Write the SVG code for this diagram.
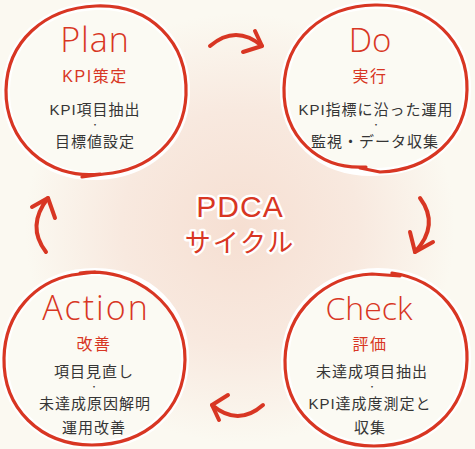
<svg xmlns="http://www.w3.org/2000/svg" width="475" height="449" viewBox="0 0 475 449">
<defs>
<radialGradient id="glow" cx="240" cy="228" r="215" gradientUnits="userSpaceOnUse">
<stop offset="0" stop-color="#F6DFD2"/>
<stop offset="0.55" stop-color="#F8E9DF"/>
<stop offset="1" stop-color="#FBF9F1"/>
</radialGradient>
<style>
.halo{fill:#FBFAF3;stroke:#FFFFFF;stroke-width:8;stroke-linejoin:round;stroke-linecap:round}
.ring{fill:none;stroke:#D83623;stroke-width:3.2;stroke-linecap:round;stroke-linejoin:round}
.arr{fill:none;stroke:#D83623;stroke-width:4;stroke-linecap:round;stroke-linejoin:round}
.title{font-family:"Open Sans","Liberation Sans",sans-serif;font-weight:300;fill:#D83623;text-anchor:middle}
.sub{font-family:"Liberation Sans","Noto Sans CJK JP",sans-serif;fill:#D83623;text-anchor:middle;font-size:16px;letter-spacing:1.5px}
.body{font-family:"Liberation Sans","Noto Sans CJK JP",sans-serif;fill:#353535;text-anchor:middle;font-size:15px;letter-spacing:1px}
.dot{font-family:"Noto Sans CJK JP",sans-serif;fill:#353535;text-anchor:middle;font-size:8px}
.center{font-family:"Liberation Sans","Noto Sans CJK JP",sans-serif;fill:#D83623;text-anchor:middle;stroke:#FFFFFF;stroke-width:5;paint-order:stroke;stroke-linejoin:round}
</style>
</defs>
<rect width="475" height="449" fill="#FBF9F1"/>
<rect width="475" height="449" fill="url(#glow)"/>

<g id="plan">
<path class="halo" d="M 96,6 C 150,4 188,42 186,95 C 184,142 148,174 98,176 C 44,178 5,140 6,90 C 7,42 44,8 96,6 Z"/>
<path class="ring" d="M 100,174 C 46,180 5,140 6,90 C 7,42 44,8 96,6 C 150,4 188,42 186,95 C 184,140 150,170 104,174 L 82,177"/>
<text class="title" x="95" y="52" font-size="34" letter-spacing="1">Plan</text>
<text class="sub" x="95" y="82">KPI策定</text>
<text class="body" x="95" y="115">KPI項目抽出</text>
<text class="dot" x="95" y="128">・</text>
<text class="body" x="95" y="147">目標値設定</text>
</g>

<g id="do">
<path class="halo" d="M 375,5 C 432,4 468,42 467,90 C 466,140 428,172 372,172 C 320,172 283,138 284,88 C 285,40 322,6 375,5 Z"/>
<path class="ring" d="M 366,167 C 318,170 283,136 284,88 C 285,40 322,6 375,5 C 432,4 468,42 467,90 C 466,138 430,170 380,172 L 360,168"/>
<text class="title" x="370" y="52" font-size="33">Do</text>
<text class="sub" x="370" y="82">実行</text>
<text class="body" x="376" y="115" letter-spacing="0">KPI指標に沿った運用</text>
<text class="dot" x="376" y="128">・</text>
<text class="body" x="375" y="147" letter-spacing="-0.5">監視・データ収集</text>
</g>

<g id="check">
<path class="halo" d="M 378,272 C 432,272 468,310 467,360 C 466,410 428,446 374,446 C 322,446 284,410 285,360 C 286,310 324,273 378,272 Z"/>
<path class="ring" d="M 392,273 C 440,280 468,316 467,360 C 466,410 428,446 374,446 C 322,446 284,410 285,360 C 286,312 324,276 372,274 L 400,276"/>
<text class="title" x="369" y="320" font-size="32" letter-spacing="0">Check</text>
<text class="sub" x="370" y="350">評価</text>
<text class="body" x="372" y="377">未達成項目抽出</text>
<text class="dot" x="372" y="390">・</text>
<text class="body" x="370" y="409" letter-spacing="0.5">KPI達成度測定と</text>
<text class="body" x="370" y="433">収集</text>
</g>

<g id="action">
<path class="halo" d="M 95,272 C 150,272 186,310 185,360 C 184,410 146,445 92,445 C 40,445 3,408 4,358 C 5,308 42,272 95,272 Z"/>
<path class="ring" d="M 80,273 C 135,266 186,306 185,360 C 184,410 146,445 92,445 C 40,445 3,408 4,358 C 5,312 36,282 72,275 L 95,272"/>
<text class="title" x="96" y="320" font-size="34" letter-spacing="2">Action</text>
<text class="sub" x="94" y="350">改善</text>
<text class="body" x="94" y="377">項目見直し</text>
<text class="dot" x="94" y="390">・</text>
<text class="body" x="95" y="409">未達成原因解明</text>
<text class="body" x="94" y="433">運用改善</text>
</g>

<g id="center">
<text class="center" x="240" y="217" font-size="30" letter-spacing="1">PDCA</text>
<text class="center" x="240" y="252" font-size="26" letter-spacing="2">サイクル</text>
</g>

<g id="connectors">
<path class="arr" d="M 210,46 Q 236,24 262,46"/>
<path class="arr" d="M 255,31 L 262,46 L 243,52"/>
<path class="arr" d="M 420,198 Q 440,225 415,252"/>
<path class="arr" d="M 410,232 L 415,252 L 433,242"/>
<path class="arr" d="M 263,405 Q 238,427 212,405"/>
<path class="arr" d="M 228,395 L 212,405 L 219,420"/>
<path class="arr" d="M 46,252 Q 26,226 48,198"/>
<path class="arr" d="M 32,207 L 48,198 L 55,218"/>
</g>
</svg>
